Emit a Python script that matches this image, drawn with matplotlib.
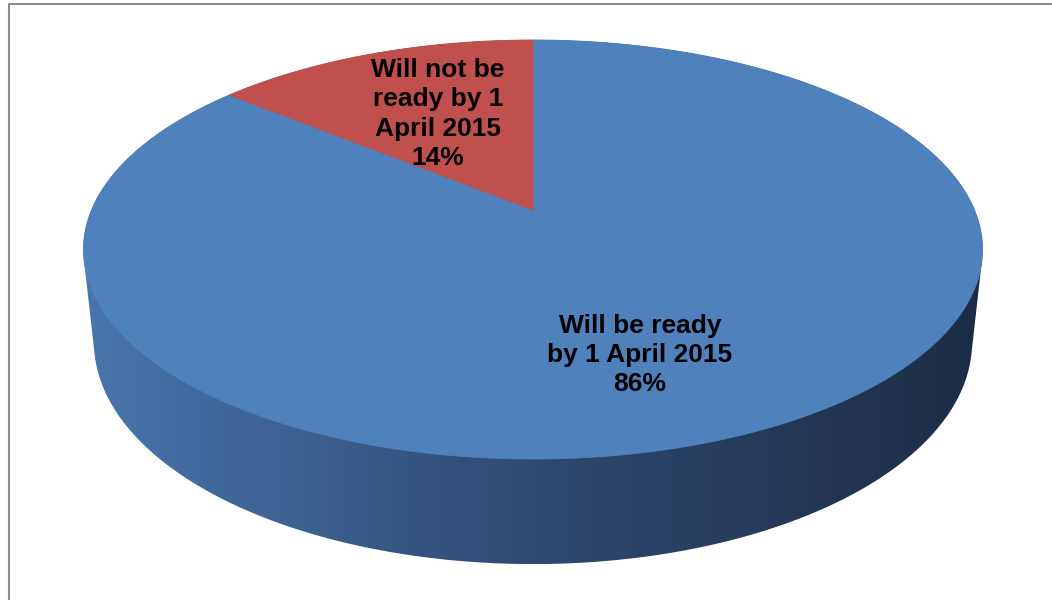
import numpy as np
import matplotlib
matplotlib.use("Agg")
import matplotlib.pyplot as plt
from matplotlib.patches import Polygon
from matplotlib.colors import LinearSegmentedColormap

labels = ["Will be ready\nby 1 April 2015", "Will not be\nready by 1\nApril 2015"]
shares = [86, 14]
colors = ["#4f81bd", "#c0504d"]
label_pos = [(640, 355), (438, 114)]

# simple perspective camera looking down at the disc (pixel units)
CX, CY = 533, 210
FOCAL, DIST, TILT = 2082.0, 4.716, np.radians(27.24)
DEPTH = 0.238


def project(x, y, z=0.0):
    s, c = np.sin(TILT), np.cos(TILT)
    w = DIST + y * c - z * s
    return CX + FOCAL * x / w, CY - FOCAL * (y * s + z * c) / w


def convex_hull(pts):
    pts = sorted(set(map(tuple, np.round(pts, 3))))

    def cross(o, a, b):
        return (a[0] - o[0]) * (b[1] - o[1]) - (a[1] - o[1]) * (b[0] - o[0])

    lower, upper = [], []
    for p in pts:
        while len(lower) >= 2 and cross(lower[-2], lower[-1], p) <= 0:
            lower.pop()
        lower.append(p)
    for p in reversed(pts):
        while len(upper) >= 2 and cross(upper[-2], upper[-1], p) <= 0:
            upper.pop()
        upper.append(p)
    return np.array(lower[:-1] + upper[:-1])


fig = plt.figure(figsize=(10.52, 6), dpi=100)
ax = fig.add_axes([0, 0, 1, 1])
ax.set_xlim(0, 1052)
ax.set_ylim(600, 0)
ax.axis("off")

# chart frame (right and bottom edges fall outside the picture)
ax.plot([8.5, 8.5, 1060], [610, 3.5, 3.5], color="#8c8c8c", lw=1.5, solid_capstyle="butt")

# side of the cylinder: hull of top and bottom rims, shaded left to right
phi = np.linspace(0, 2 * np.pi, 720)
top = np.column_stack(project(np.cos(phi), np.sin(phi), 0.0))
bot = np.column_stack(project(np.cos(phi), np.sin(phi), -DEPTH))
side = Polygon(convex_hull(np.vstack([top, bot])), closed=True, facecolor="none", edgecolor="none")
ax.add_patch(side)
shade = LinearSegmentedColormap.from_list("side", ["#4a75ad", "#2e4a71", "#1c2c45"])
x0, x1 = side.get_xy()[:, 0].min(), side.get_xy()[:, 0].max()
y0, y1 = side.get_xy()[:, 1].min(), side.get_xy()[:, 1].max()
img = ax.imshow(np.linspace(0, 1, 256).reshape(1, -1), cmap=shade, aspect="auto",
                extent=(x0, x1, y1, y0), interpolation="bilinear", zorder=1)
img.set_clip_path(side)

# top face: wedges clockwise from 12 o'clock
centre = project(0.0, 0.0)
start = np.pi / 2
total = sum(shares)
for share, col in zip(shares, colors):
    sweep = 2 * np.pi * share / total
    a = np.linspace(start, start - sweep, 400)
    ex, ey = project(np.cos(a), np.sin(a))
    xy = np.vstack([[centre], np.column_stack([ex, ey])])
    ax.add_patch(Polygon(xy, closed=True, facecolor=col, edgecolor=col, lw=0.6, zorder=2))
    start -= sweep

for label, share, (tx, ty) in zip(labels, shares, label_pos):
    ax.text(tx, ty, f"{label}\n{share}%", ha="center", va="center", fontsize=19,
            fontweight="bold", family="Liberation Sans", color="black",
            linespacing=1.28, zorder=3)

fig.savefig("out.png", dpi=100)
